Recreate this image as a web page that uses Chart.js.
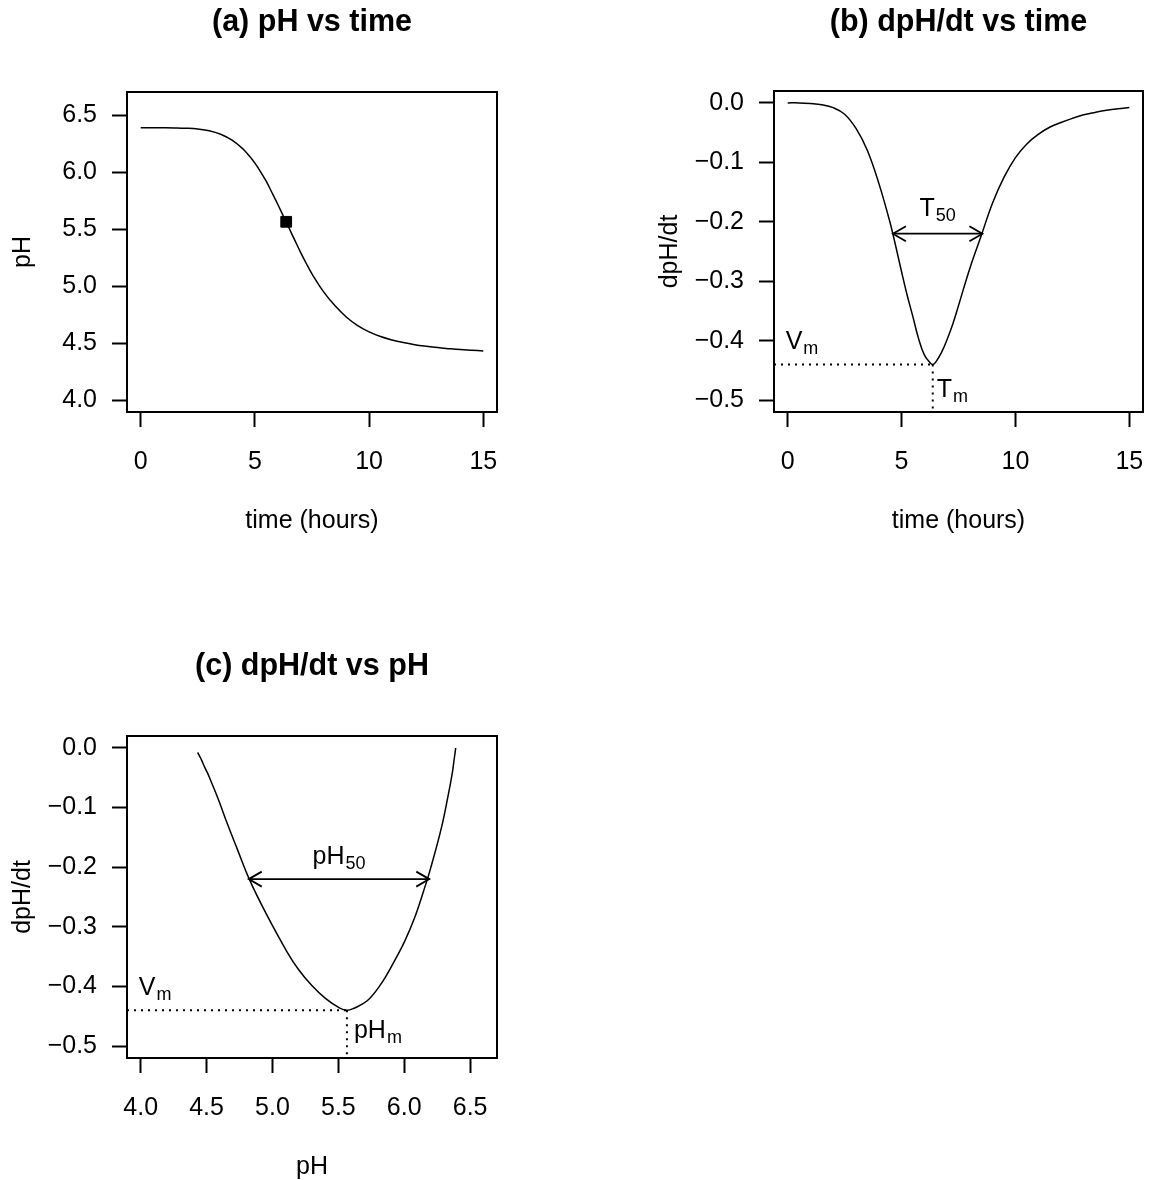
<!DOCTYPE html>
<html>
<head>
<meta charset="utf-8">
<title>pH vs time</title>
<script src="https://cdn.jsdelivr.net/npm/chart.js@4.4.1/dist/chart.umd.min.js"></script>
<style>
    html, body { margin: 0; padding: 0; background: #fff; overflow: hidden; }
    body { width: 1153px; height: 1180px; position: relative; }
    canvas { position: absolute; }
</style>
</head>
<body>
<canvas id="panelA" width="540" height="548" style="left:0px;top:0px"></canvas>
<canvas id="panelB" width="540" height="548" style="left:647px;top:0px"></canvas>
<canvas id="panelC" width="540" height="550" style="left:0px;top:644px"></canvas>
<script>
// sampled time points (hours)
const timeHours = [0, 0.5, 1, 1.5, 2, 2.5, 3, 3.5, 4, 4.5, 4.75, 5, 5.25, 5.5, 5.75, 6, 6.25, 6.37, 6.5,
    6.75, 7, 7.25, 7.5, 8, 8.5, 9, 9.5, 10, 10.5, 11, 11.5, 12, 12.5, 13, 13.5, 14, 14.5, 15];
// pH
const phValues = [6.390, 6.390, 6.390, 6.389, 6.386, 6.379, 6.364, 6.333, 6.281, 6.200, 6.144, 6.080,
    6.004, 5.919, 5.820, 5.719, 5.614, 5.565, 5.508, 5.402, 5.297, 5.199, 5.108, 4.952, 4.830, 4.730,
    4.654, 4.599, 4.558, 4.528, 4.505, 4.487, 4.473, 4.461, 4.452, 4.444, 4.438, 4.432];
// dpH/dt
const rateValues = [0, 0, -0.001, -0.003, -0.008, -0.019, -0.043, -0.080, -0.135, -0.202, -0.242, -0.284,
    -0.324, -0.360, -0.397, -0.424, -0.437, -0.440, -0.436, -0.420, -0.398, -0.372, -0.341, -0.278,
    -0.223, -0.168, -0.125, -0.092, -0.069, -0.053, -0.041, -0.033, -0.026, -0.020, -0.016, -0.0125,
    -0.0098, -0.0077];

// tick labels
const timeTicks = [0, 5, 10, 15];
const phTicks = [4.0, 4.5, 5.0, 5.5, 6.0, 6.5];
const rateTicks = [0, -0.1, -0.2, -0.3, -0.4, -0.5];

// axis limits
const timeRange = [-0.6, 15.6];
const phRange = [3.896, 6.704];
const rateRange = [-0.52, 0.02];

// annotated quantities
const vmRate = -0.44;
const halfRate = -0.22;
const tmHours = 6.37;
const t50Ends = [4.62, 8.55];
const phmValue = 5.565;
const ph50Ends = [4.82, 6.19];

const FONT = '"Liberation Sans", Arial, Helvetica, sans-serif';
const TEXT_SIZE = 25;
const X_AXIS_HEIGHT = 128;

Chart.defaults.font.family = FONT;
Chart.defaults.color = '#000';

const fmtRate = v => (Math.abs(v) < 1e-9 ? '0.0' : '\u2212' + Math.abs(v).toFixed(1));

function pts(xs, ys) {
    return xs.map((x, i) => ({ x: x, y: ys[i] }));
}

function curve(data) {
    return { data: data, showLine: true, borderColor: '#000', borderWidth: 1.5, pointRadius: 0,
        tension: 0.4, fill: false };
}

function segment(data, dotted) {
    return { data: data, showLine: true, borderColor: '#000', borderWidth: dotted ? 2 : 1.8,
        borderDash: dotted ? [2, 5] : [], pointRadius: 0, tension: 0, fill: false };
}

const framePlugin = {
    id: 'frame',
    afterDatasetsDraw(chart) {
        const { ctx, chartArea: a } = chart;
        ctx.save();
        ctx.strokeStyle = '#000';
        ctx.lineWidth = 2;
        ctx.strokeRect(a.left, a.top, a.right - a.left, a.bottom - a.top);
        ctx.restore();
    }
};

// arrow heads and subscripted labels, placed through the chart scales
const notesPlugin = {
    id: 'notes',
    afterDatasetsDraw(chart, args, opts) {
        const { ctx } = chart;
        const xs = chart.scales.x, ys = chart.scales.y;
        ctx.save();
        ctx.strokeStyle = '#000';
        ctx.fillStyle = '#000';
        ctx.lineWidth = 1.8;
        (opts.arrows || []).forEach(a => {
            const y = ys.getPixelForValue(a.y);
            [[a.x0, 1], [a.x1, -1]].forEach(([xv, dir]) => {
                const x = xs.getPixelForValue(xv);
                const len = 15, ang = Math.PI / 6;
                ctx.beginPath();
                ctx.moveTo(x + dir * len * Math.cos(ang), y - len * Math.sin(ang));
                ctx.lineTo(x, y);
                ctx.lineTo(x + dir * len * Math.cos(ang), y + len * Math.sin(ang));
                ctx.stroke();
            });
        });
        (opts.labels || []).forEach(l => {
            const x = xs.getPixelForValue(l.x) + (l.dx || 0);
            const y = ys.getPixelForValue(l.y) + (l.dy || 0);
            ctx.font = TEXT_SIZE + 'px ' + FONT;
            const mw = ctx.measureText(l.main).width;
            ctx.font = '18px ' + FONT;
            const sw = ctx.measureText(l.sub).width;
            const left = l.align === 'center' ? x - (mw + sw + 1) / 2 : x;
            ctx.textAlign = 'left';
            ctx.textBaseline = 'alphabetic';
            ctx.font = TEXT_SIZE + 'px ' + FONT;
            ctx.fillText(l.main, left, y);
            ctx.font = '18px ' + FONT;
            ctx.fillText(l.sub, left + mw + 1, y + 5);
        });
        ctx.restore();
    }
};

function axis(range, ticks, fmt, titleText, horizontal) {
    return {
        type: 'linear',
        min: range[0],
        max: range[1],
        afterBuildTicks: s => { s.ticks = ticks.map(v => ({ value: v })); },
        afterFit: s => {
            if (horizontal) s.height = X_AXIS_HEIGHT;
            else s.width = 127;
        },
        grid: { drawOnChartArea: false, drawTicks: true, tickLength: 15, tickWidth: 2, tickColor: '#000' },
        border: { display: true, color: '#000', width: 2 },
        ticks: { padding: horizontal ? 20 : 15, font: { size: TEXT_SIZE }, color: '#000', maxRotation: 0,
            autoSkip: false, callback: fmt },
        title: { display: true, text: titleText, font: { size: TEXT_SIZE }, color: '#000',
            padding: horizontal ? { top: 0, bottom: 3.6 } : { top: 8, bottom: 0 } }
    };
}

function buildPanel(id, spec) {
    const canvas = document.getElementById(id);
    return new Chart(canvas, {
        type: 'scatter',
        data: { datasets: spec.datasets },
        options: {
            responsive: false,
            animation: false,
            events: [],
            layout: {
                padding: { left: 0, top: 0, right: canvas.width - spec.right,
                    bottom: canvas.height - spec.bottom - X_AXIS_HEIGHT }
            },
            plugins: {
                legend: { display: false },
                tooltip: { enabled: false },
                title: {
                    display: true, text: spec.title, fullSize: false, color: '#000',
                    font: { size: 30.5, weight: 'bold', lineHeight: 1.2 },
                    padding: { top: 4.5, bottom: spec.top - 4.5 - 36.6 }
                },
                notes: { arrows: spec.arrows || [], labels: spec.labels || [] }
            },
            scales: {
                x: spec.x,
                y: spec.y
            }
        },
        plugins: [framePlugin, notesPlugin]
    });
}

const tmIndex = timeHours.indexOf(tmHours);

buildPanel('panelA', {
    title: '(a) pH vs time', top: 92, right: 497, bottom: 412,
    datasets: [
        curve(pts(timeHours, phValues)),
        { data: [{ x: tmHours, y: phValues[tmIndex] }], pointStyle: 'rect', pointRadius: 7.6,
          backgroundColor: '#000', borderColor: '#000', borderWidth: 1, showLine: false }
    ],
    x: axis(timeRange, timeTicks, v => String(v), 'time (hours)', true),
    y: axis(phRange, phTicks, v => v.toFixed(1), 'pH', false)
});

buildPanel('panelB', {
    title: '(b) dpH/dt vs time', top: 91, right: 496, bottom: 412,
    datasets: [
        curve(pts(timeHours, rateValues)),
        segment([{ x: timeRange[0], y: vmRate }, { x: tmHours, y: vmRate }], true),
        segment([{ x: tmHours, y: vmRate }, { x: tmHours, y: rateRange[0] }], true),
        segment([{ x: t50Ends[0], y: halfRate }, { x: t50Ends[1], y: halfRate }], false)
    ],
    arrows: [{ x0: t50Ends[0], x1: t50Ends[1], y: halfRate }],
    labels: [
        { x: (t50Ends[0] + t50Ends[1]) / 2, y: halfRate, main: 'T', sub: '50', align: 'center', dy: -18 },
        { x: timeTicks[0], y: vmRate, main: 'V', sub: 'm', align: 'left', dx: -2, dy: -15 },
        { x: tmHours, y: vmRate, main: 'T', sub: 'm', align: 'left', dx: 4, dy: 33 }
    ],
    x: axis(timeRange, timeTicks, v => String(v), 'time (hours)', true),
    y: axis(rateRange, rateTicks, fmtRate, 'dpH/dt', false)
});

buildPanel('panelC', {
    title: '(c) dpH/dt vs pH', top: 92, right: 497, bottom: 414,
    datasets: [
        curve(pts(phValues, rateValues)),
        segment([{ x: phRange[0], y: vmRate }, { x: phmValue, y: vmRate }], true),
        segment([{ x: phmValue, y: vmRate }, { x: phmValue, y: rateRange[0] }], true),
        segment([{ x: ph50Ends[0], y: halfRate }, { x: ph50Ends[1], y: halfRate }], false)
    ],
    arrows: [{ x0: ph50Ends[0], x1: ph50Ends[1], y: halfRate }],
    labels: [
        { x: (ph50Ends[0] + ph50Ends[1]) / 2, y: halfRate, main: 'pH', sub: '50', align: 'center', dy: -15 },
        { x: phTicks[0], y: vmRate, main: 'V', sub: 'm', align: 'left', dx: -2, dy: -15 },
        { x: phmValue, y: vmRate, main: 'pH', sub: 'm', align: 'left', dx: 7, dy: 28 }
    ],
    x: axis(phRange, phTicks, v => v.toFixed(1), 'pH', true),
    y: axis(rateRange, rateTicks, fmtRate, 'dpH/dt', false)
});
</script>
</body>
</html>
